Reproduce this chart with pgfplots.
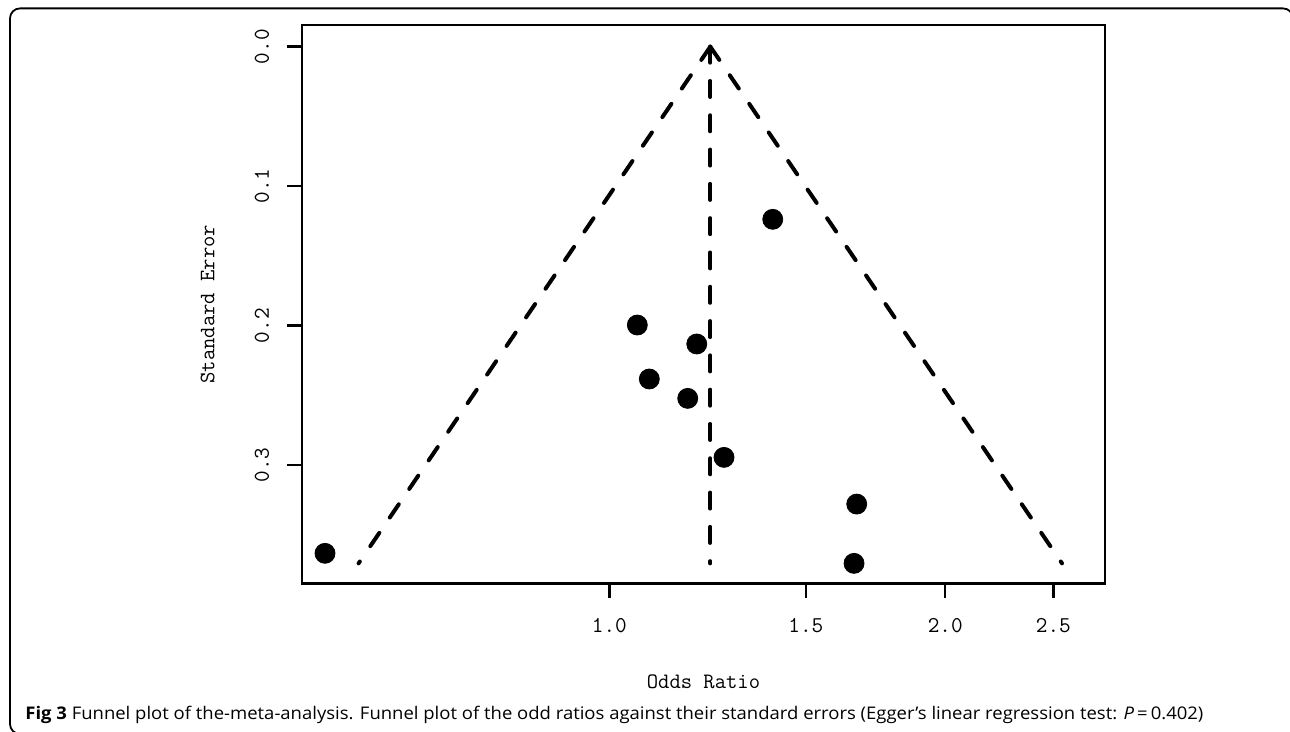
\documentclass[border=0pt]{standalone}
\usepackage{pgfplots}
\pgfplotsset{compat=1.18}
\usepackage{pgfplotstable}
\usepackage{graphicx}
\usepackage{fontspec}
\newfontfamily\capfont{Open Sans}

\pgfplotstableread{
or se
0.5562 0.3633
1.0595 0.1996
1.1977 0.2132
1.0860 0.2383
1.1756 0.2522
1.2670 0.2945
1.6661 0.3280
1.6570 0.3705
1.4010 0.1238
}\studies

\pgfplotstableread{
or se
1.2317 0
0.5961 0.3705
}\funnelleft

\pgfplotstableread{
or se
1.2317 0
2.5450 0.3705
}\funnelright

\pgfplotstableread{
or se
1.2317 0
1.2317 0.3705
}\funnelcenter

\begin{document}
\begin{tikzpicture}
\useasboundingbox (0,0) rectangle (645pt,366pt);
\draw[line width=0.9pt, rounded corners=5pt] (20pt,-1pt) -- (5pt,-1pt) -- (5pt,361.8pt) -- (646.5pt,361.8pt) -- (646.5pt,300pt);
\begin{axis}[
  at={(151pt,74.35pt)}, anchor=south west, scale only axis,
  width=401.5pt, height=279.15pt,
  xmode=log, xmin=0.5304, xmax=2.781,
  ymin=-0.01554, ymax=0.3848, y dir=reverse,
  xtick={1,1.5,2,2.5}, xticklabels={1.0,1.5,2.0,2.5},
  ytick={0,0.1,0.2,0.3}, yticklabels={0.0,0.1,0.2,0.3},
  minor xtick={}, minor ytick={},
  tick pos=left, tick align=outside, major tick length=7.3pt,
  every tick/.style={black, line width=1.2pt},
  axis line style={line width=1.3pt, black},
  ticklabel style={font=\fontsize{11.3}{13}\selectfont\ttfamily},
  xticklabel style={anchor=north, inner sep=0pt},
  yticklabel style={rotate=90, anchor=south, inner sep=0pt},
  xticklabel shift=10pt,
  yticklabel shift=9pt,
  xlabel={Odds Ratio}, ylabel={Standard Error},
  label style={font=\fontsize{11}{13}\selectfont\ttfamily},
  xlabel style={at={(axis description cs:0.5,-0.188)}, anchor=base, inner sep=0pt},
  ylabel style={at={(axis description cs:-0.1092,0.5)}, anchor=base, inner sep=0pt, rotate=0},
  clip=false,
]
\addplot[black, line width=2pt, line cap=round, dash pattern=on 8pt off 9.3pt] table[x=or,y=se]{\funnelleft};
\addplot[black, line width=2pt, line cap=round, dash pattern=on 8pt off 9.3pt] table[x=or,y=se]{\funnelright};
\addplot[black, line width=2pt, line cap=round, dash pattern=on 8pt off 9.15pt] table[x=or,y=se]{\funnelcenter};
\addplot[only marks, mark=*, mark size=5pt, black] table[x=or,y=se]{\studies};
\end{axis}
\node[anchor=base west, inner sep=0pt] at (12.5pt,6pt) {\resizebox{589pt}{\height}{\capfont\fontsize{8.7}{10}\selectfont\textbf{Fig 3} Funnel plot of the-meta-analysis. Funnel plot of the odd ratios against their standard errors (Egger’s linear regression test: \textit{P}\,=\,0.402)}};
\end{tikzpicture}
\end{document}
